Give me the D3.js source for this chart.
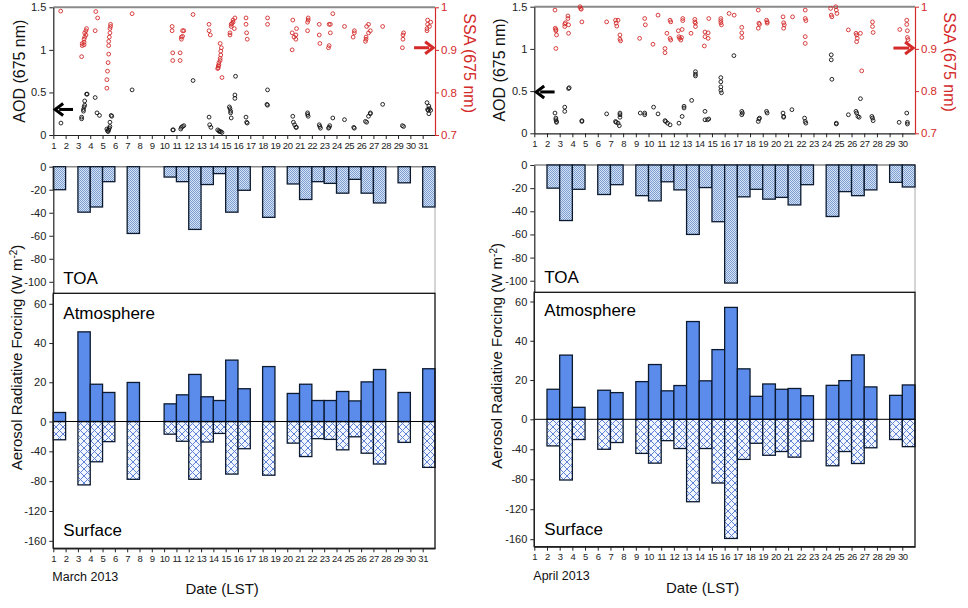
<!DOCTYPE html>
<html><head><meta charset="utf-8">
<script src="https://cdn.jsdelivr.net/npm/d3@7"></script>
<style>
body{margin:0;background:#fff;}
svg{display:block;font-family:"Liberation Sans",Arial,sans-serif;}
</style></head>
<body>
<svg id="c" width="968" height="608"></svg>
<script>
// ---------------- DATA ----------------
const marchDays = [1,3,4,5,7,10,11,12,13,14,15,16,18,20,21,22,23,24,25,26,27,29,31];
const marchTOA  = [-20,-39.5,-35,-13,-58,-9,-13,-54.5,-15.5,-6,-39.5,-20.5,-44,-15,-28.5,-13,-14.5,-23,-11,-23,-31.5,-14,-35];
const marchATM  = [4.6,45.7,19,14.8,19.9,9,13.6,24,12.6,10.7,31.3,16.7,28,14.3,19,10.7,10.7,15.3,10.5,20.2,26.5,14.8,26.9];
const marchSRF  = [-24.5,-85,-54,-27,-77.5,-17,-26.5,-77.5,-27.5,-16,-70.5,-36.5,-72,-29,-47,-23,-24,-38,-20.5,-42.5,-57,-28,-61.5];

const aprilDays = [2,3,4,6,7,9,10,11,12,13,14,15,16,17,18,19,20,21,22,24,25,26,27,29,30];
const aprilTOA  = [-20,-48,-21,-25.5,-17,-26.5,-31,-14.5,-21.5,-60,-19.5,-49,-102,-27.5,-21,-29.5,-28,-34.5,-17,-44.5,-23,-26.5,-21.5,-15,-19];
const aprilATM  = [15.3,32.7,6.1,14.8,13.6,19.2,27.9,14.5,17.2,49.8,19.6,35.5,57,25.7,11.7,18,15.3,15.7,12,17.3,19.7,32.8,16.5,12.2,17.5];
const aprilSRF  = [-35.5,-81,-27,-40,-31,-45.5,-58.5,-28.5,-39,-110,-39,-85,-159,-53.5,-32,-48,-43,-50.5,-29,-62,-43,-59,-38,-27,-36.5];

const marchAOD = [[1.62,0.14],[3.3,0.19],[3.3,0.21],[3.45,0.28],[3.45,0.30],[3.5,0.33],[3.55,0.35],[3.55,0.40],[3.7,0.48],[3.75,0.48],[4.4,0.44],[4.55,0.26],[4.75,0.23],[5.35,0.07],[5.4,0.05],[5.45,0.04],[5.5,0.06],[5.55,0.08],[5.6,0.10],[5.6,0.15],[5.7,0.23],[5.75,0.22],[7.4,0.53],[10.7,0.06],[10.75,0.06],[11.35,0.07],[11.4,0.09],[11.5,0.10],[11.6,0.11],[12.35,0.64],[13.65,0.21],[13.7,0.12],[13.8,0.09],[14.35,0.06],[14.45,0.05],[14.5,0.04],[14.6,0.04],[14.7,0.03],[15.3,0.33],[15.35,0.31],[15.4,0.28],[15.4,0.26],[15.45,0.2],[15.8,0.69],[15.75,0.47],[15.75,0.43],[16.65,0.21],[16.7,0.15],[16.75,0.14],[18.4,0.53],[18.35,0.36],[18.4,0.35],[20.45,0.22],[20.5,0.15],[20.6,0.12],[20.7,0.09],[20.75,0.09],[21.65,0.26],[21.65,0.24],[21.7,0.22],[22.6,0.12],[22.65,0.10],[22.7,0.08],[23.35,0.08],[23.4,0.09],[23.45,0.11],[23.7,0.2],[24.65,0.18],[25.4,0.09],[25.45,0.08],[26.35,0.16],[26.45,0.15],[26.6,0.22],[26.75,0.26],[26.75,0.25],[27.75,0.36],[29.35,0.11],[29.45,0.10],[31.35,0.38],[31.4,0.30],[31.45,0.29],[31.5,0.34],[31.5,0.25],[31.55,0.31],[31.65,0.29]];
const marchSSA = [[1.6,0.991],[3.3,0.884],[3.35,0.91],[3.35,0.915],[3.5,0.912],[3.5,0.918],[3.5,0.925],[3.55,0.93],[3.55,0.94],[3.65,0.935],[3.65,0.945],[3.7,0.95],[4.4,0.945],[4.45,0.99],[4.6,0.975],[5.35,0.81],[5.35,0.83],[5.4,0.85],[5.45,0.87],[5.5,0.89],[5.5,0.91],[5.5,0.92],[5.55,0.93],[5.6,0.94],[5.6,0.95],[5.65,0.955],[5.65,0.96],[7.4,0.985],[10.65,0.945],[10.65,0.955],[10.7,0.893],[10.7,0.875],[11.3,0.893],[11.3,0.875],[11.4,0.925],[11.4,0.93],[11.5,0.945],[11.5,0.932],[11.6,0.945],[12.35,0.983],[13.65,0.96],[13.65,0.945],[13.75,0.935],[14.35,0.856],[14.4,0.858],[14.4,0.862],[14.45,0.865],[14.45,0.87],[14.55,0.875],[14.55,0.88],[14.6,0.888],[14.6,0.897],[14.65,0.905],[14.7,0.835],[14.55,0.915],[15.35,0.935],[15.35,0.94],[15.45,0.955],[15.45,0.96],[15.5,0.962],[15.6,0.965],[15.6,0.97],[15.7,0.95],[15.75,0.975],[16.65,0.975],[16.65,0.96],[16.7,0.94],[16.75,0.925],[18.4,0.975],[18.4,0.96],[20.4,0.9],[20.4,0.94],[20.45,0.97],[20.55,0.93],[20.7,0.925],[20.7,0.935],[20.75,0.95],[21.65,0.945],[21.65,0.965],[21.7,0.97],[21.7,0.975],[22.6,0.96],[22.6,0.935],[22.65,0.915],[23.35,0.905],[23.4,0.91],[23.4,0.96],[23.5,0.94],[23.5,0.96],[23.7,0.985],[24.65,0.955],[25.35,0.93],[25.45,0.945],[25.45,0.94],[26.35,0.92],[26.4,0.925],[26.4,0.93],[26.45,0.955],[26.6,0.96],[26.6,0.94],[26.75,0.945],[27.75,0.955],[29.35,0.905],[29.4,0.925],[29.4,0.935],[29.45,0.94],[31.35,0.945],[31.35,0.95],[31.4,0.97],[31.4,0.96],[31.55,0.955],[31.65,0.965]];

const aprilAOD = [[2.63,0.24],[2.7,0.18],[2.7,0.16],[2.75,0.14],[2.75,0.13],[3.4,0.26],[3.4,0.31],[3.7,0.53],[3.75,0.54],[4.75,0.15],[4.75,0.14],[6.7,0.23],[7.4,0.14],[7.45,0.13],[7.6,0.12],[7.7,0.09],[7.75,0.24],[7.75,0.22],[7.75,0.19],[9.35,0.24],[9.7,0.22],[9.7,0.24],[10.4,0.31],[10.75,0.23],[11.3,0.15],[11.35,0.14],[11.5,0.12],[11.7,0.10],[12.4,0.12],[12.65,0.20],[12.8,0.32],[12.8,0.30],[13.4,0.39],[13.7,0.70],[13.7,0.73],[13.7,0.68],[14.45,0.26],[14.45,0.16],[14.65,0.16],[14.75,0.17],[15.7,0.66],[15.7,0.61],[15.7,0.55],[15.7,0.51],[15.75,0.48],[16.73,0.92],[17.35,0.26],[17.4,0.24],[17.35,0.22],[18.65,0.14],[18.7,0.17],[18.75,0.18],[19.3,0.26],[19.35,0.24],[20.6,0.24],[20.65,0.2],[20.65,0.19],[21.3,0.28],[22.3,0.18],[22.35,0.14],[22.4,0.12],[24.4,0.93],[24.4,0.87],[24.45,0.64],[24.8,0.11],[24.8,0.12],[25.75,0.22],[26.35,0.26],[26.4,0.24],[26.5,0.2],[26.6,0.19],[26.7,0.41],[27.6,0.2],[27.65,0.18],[27.7,0.15],[29.75,0.13],[30.35,0.24],[30.4,0.13],[30.4,0.11]];
const aprilSSA = [[2.63,0.992],[2.65,0.949],[2.7,0.943],[2.7,0.946],[2.75,0.933],[2.7,0.901],[3.4,0.959],[3.45,0.962],[3.4,0.953],[3.65,0.978],[3.65,0.972],[3.7,0.957],[3.7,0.937],[4.6,1.0],[4.65,0.996],[4.7,0.994],[4.75,0.964],[6.7,0.964],[7.4,0.968],[7.45,0.961],[7.5,0.954],[7.6,0.968],[7.75,0.933],[7.75,0.923],[7.8,0.919],[9.3,0.925],[9.7,0.972],[9.75,0.957],[10.35,0.911],[10.75,0.98],[11.3,0.901],[11.3,0.891],[11.45,0.937],[11.7,0.968],[11.75,0.964],[11.7,0.925],[11.75,0.921],[12.35,0.943],[12.4,0.929],[12.45,0.925],[12.55,0.921],[12.6,0.927],[12.65,0.946],[12.7,0.972],[12.7,0.967],[13.35,0.937],[13.65,0.964],[13.7,0.961],[13.65,0.97],[13.7,0.953],[14.4,0.907],[14.45,0.94],[14.45,0.929],[14.7,0.925],[14.7,0.938],[14.75,0.972],[15.7,0.972],[15.7,0.967],[15.75,0.957],[15.7,0.962],[16.35,0.984],[16.75,0.98],[17.35,0.951],[17.35,0.938],[17.35,0.927],[18.65,0.992],[18.65,0.949],[18.7,0.961],[18.75,0.958],[19.3,0.968],[19.35,0.964],[19.35,0.961],[20.6,0.976],[20.65,0.962],[20.65,0.949],[20.7,0.957],[21.35,0.976],[22.35,0.992],[22.35,0.972],[22.4,0.967],[22.35,0.929],[22.35,0.913],[24.35,0.996],[24.4,0.98],[24.45,0.976],[24.75,1.0],[24.8,0.992],[24.85,0.984],[25.75,0.945],[26.35,0.937],[26.4,0.933],[26.45,0.925],[26.4,0.917],[26.7,0.937],[26.8,0.848],[27.65,0.964],[27.65,0.953],[27.7,0.939],[29.8,0.946],[30.35,0.968],[30.35,0.958],[30.4,0.943],[30.4,0.927],[30.45,0.922]];

const aodTicks = [0,0.5,1,1.5];
const ssaTicks = [0.7,0.8,0.9,1];
const toaTicks = [0,-20,-40,-60,-80,-100];
const atmTicks = [0,20,40,60];
const srfTicks = [-40,-80,-120,-160];

// ---------------- DRAW ----------------
const svg = d3.select("#c");
const defs = svg.append("defs");
const pt = defs.append("pattern").attr("id","toaPat").attr("patternUnits","userSpaceOnUse").attr("width",2).attr("height",2);
pt.append("rect").attr("width",2).attr("height",2).attr("fill","#d3e2f5");
pt.append("rect").attr("width",1).attr("height",1).attr("fill","#7f9ed2");
pt.append("rect").attr("x",1).attr("y",1).attr("width",1).attr("height",1).attr("fill","#7f9ed2");
const ps = defs.append("pattern").attr("id","srfPat").attr("patternUnits","userSpaceOnUse").attr("width",7).attr("height",7);
ps.append("rect").attr("width",7).attr("height",7).attr("fill","#f2f7ff");
ps.append("path").attr("d","M0,0L7,7M7,0L0,7M-1,6L1,8M6,-1L8,1M-1,1L1,-1M6,8L8,6").attr("stroke","#5f82d6").attr("stroke-width",1);

const RED = "#d42a2a";
const panels = [
  {days:marchDays,toa:marchTOA,atm:marchATM,srf:marchSRF,aod:marchAOD,ssa:marchSSA,n:31,month:"March 2013",
   x0:53.3,x1:435,tY0:135,tY1:7.3,toaTop:166.7,toaBot:293.3,atmTop:294,zeroY:421.5,srfBot:548.3,
   blackArrow:0.3,redArrow:0.905,labX:17},
  {days:aprilDays,toa:aprilTOA,atm:aprilATM,srf:aprilSRF,aod:aprilAOD,ssa:aprilSSA,n:30,month:"April 2013",
   x0:534.3,x1:915,tY0:133.3,tY1:6.7,toaTop:165,toaBot:292.3,atmTop:291.7,zeroY:419.3,srfBot:546.7,
   blackArrow:0.49,redArrow:0.902,labX:497}
];

function styleAxis(g,color,fs){
  g.selectAll("path").attr("stroke",color).attr("stroke-width",1.2);
  g.selectAll("line").attr("stroke",color);
  g.selectAll("text").attr("fill",color).style("font-size",fs+"px").attr("font-family","'Liberation Sans',Arial,sans-serif");
}

panels.forEach(p=>{
  const g = svg.append("g");
  const x = d3.scaleLinear([1,p.n+1],[p.x0,p.x1]);
  const dayTicks = d3.range(1,p.n+1);
  const yA = d3.scaleLinear([0,1.5],[p.tY0,p.tY1]);
  const yS = d3.scaleLinear([0.7,1],[p.tY0,p.tY1]);
  const yT = d3.scaleLinear([-110,0],[p.toaBot,p.toaTop]);
  const yAt = d3.scaleLinear([0,65],[p.zeroY,p.atmTop]);
  const ySf = d3.scaleLinear([-170,0],[p.srfBot,p.zeroY]);

  // ---- top scatter panel ----
  g.append("line").attr("x1",p.x0).attr("x2",p.x1).attr("y1",p.tY1).attr("y2",p.tY1).attr("stroke","#8a8a8a").attr("stroke-width",2);
  const ax = g.append("g").attr("transform",`translate(0,${p.tY0})`)
    .call(d3.axisBottom(x).tickValues(dayTicks).tickSize(4).tickSizeOuter(0).tickPadding(3));
  styleAxis(ax,"#222",9.5); ax.selectAll("text").attr("letter-spacing","-0.4");
  const ay = g.append("g").attr("transform",`translate(${p.x0},0)`)
    .call(d3.axisLeft(yA).tickValues(aodTicks).tickFormat(d3.format("")).tickSize(4).tickSizeOuter(0));
  styleAxis(ay,"#222",11);
  const as = g.append("g").attr("transform",`translate(${p.x1},0)`)
    .call(d3.axisRight(yS).tickValues(ssaTicks).tickFormat(d3.format("")).tickSize(4).tickSizeOuter(0).tickPadding(2));
  styleAxis(as,RED,11.5);

  g.append("g").selectAll("circle").data(p.ssa).join("circle")
    .attr("cx",d=>x(d[0])).attr("cy",d=>yS(d[1])).attr("r",1.9)
    .attr("fill","none").attr("stroke",RED).attr("stroke-width",0.9);
  g.append("g").selectAll("circle").data(p.aod).join("circle")
    .attr("cx",d=>x(d[0])).attr("cy",d=>yA(d[1])).attr("r",1.9)
    .attr("fill","none").attr("stroke","#111").attr("stroke-width",0.9);

  // arrows
  const by = yA(p.blackArrow), bx0 = x(1.15), bx1 = x(2.6);
  g.append("line").attr("x1",bx0+4).attr("x2",bx1).attr("y1",by).attr("y2",by).attr("stroke","#000").attr("stroke-width",3);
  g.append("path").attr("d",`M${bx0+8},${by-6}L${bx0},${by}L${bx0+8},${by+6}`).attr("fill","none").attr("stroke","#000").attr("stroke-width",3).attr("stroke-linejoin","miter");
  const ry = yS(p.redArrow), rx1 = x(p.n+0.85), rx0 = x(p.n-0.7);
  g.append("line").attr("x1",rx0).attr("x2",rx1-4).attr("y1",ry).attr("y2",ry).attr("stroke",RED).attr("stroke-width",3);
  g.append("path").attr("d",`M${rx1-8},${ry-6}L${rx1},${ry}L${rx1-8},${ry+6}`).attr("fill","none").attr("stroke",RED).attr("stroke-width",3);

  g.append("text").attr("transform",`translate(${p.labX+8},${(p.tY0+p.tY1)/2}) rotate(-90)`)
    .attr("text-anchor","middle").style("font-size","16px").attr("fill","#111").text("AOD (675 nm)");
  g.append("text").attr("transform",`translate(${p.x1+29},${(p.tY0+p.tY1)/2 - 8}) rotate(90)`)
    .attr("text-anchor","middle").style("font-size","16px").attr("fill",RED).text("SSA (675 nm)");

  // ---- TOA panel ----
  g.append("line").attr("x1",p.x0).attr("x2",p.x1).attr("y1",p.toaTop).attr("y2",p.toaTop).attr("stroke","#8a8a8a").attr("stroke-width",1.5);
  g.append("line").attr("x1",p.x1).attr("x2",p.x1).attr("y1",p.toaTop).attr("y2",p.toaBot).attr("stroke","#aaa").attr("stroke-width",1);
  g.append("g").selectAll("rect").data(p.days.map((d,i)=>[d,p.toa[i]])).join("rect")
    .attr("x",d=>x(d[0])).attr("width",d=>x(d[0]+1)-x(d[0]))
    .attr("y",yT(0)).attr("height",d=>yT(d[1])-yT(0))
    .attr("fill","url(#toaPat)").attr("stroke","#0c1a30").attr("stroke-width",1.3);
  const at = g.append("g").attr("transform",`translate(${p.x0},0)`)
    .call(d3.axisLeft(yT).tickValues(toaTicks).tickSize(4).tickSizeOuter(0));
  styleAxis(at,"#222",11);
  at.selectAll("text").text(d=>d<0?"-"+Math.abs(d):d);
  g.append("text").attr("x",p.x0+10).attr("y",p.toaBot-9).style("font-size","17px").attr("fill","#000").text("TOA");

  // ---- Atmosphere / surface panel ----
  g.append("g").selectAll("rect").data(p.days.map((d,i)=>[d,p.srf[i]])).join("rect")
    .attr("x",d=>x(d[0])).attr("width",d=>x(d[0]+1)-x(d[0]))
    .attr("y",p.zeroY).attr("height",d=>ySf(d[1])-p.zeroY)
    .attr("fill","url(#srfPat)").attr("stroke","#0c1a30").attr("stroke-width",1.3);
  g.append("g").selectAll("rect").data(p.days.map((d,i)=>[d,p.atm[i]])).join("rect")
    .attr("x",d=>x(d[0])).attr("width",d=>x(d[0]+1)-x(d[0]))
    .attr("y",d=>yAt(d[1])).attr("height",d=>p.zeroY-yAt(d[1]))
    .attr("fill","#5b8cec").attr("stroke","#0c1a30").attr("stroke-width",1.3);
  g.append("line").attr("x1",p.x0).attr("x2",p.x1).attr("y1",p.zeroY).attr("y2",p.zeroY).attr("stroke","#000").attr("stroke-width",1);
  g.append("rect").attr("x",p.x0).attr("y",p.toaBot).attr("width",p.x1-p.x0).attr("height",p.srfBot-p.toaBot)
    .attr("fill","none").attr("stroke","#111").attr("stroke-width",1.3);
  const aa = g.append("g").attr("transform",`translate(${p.x0},0)`)
    .call(d3.axisLeft(yAt).tickValues(atmTicks).tickSize(4).tickSizeOuter(0));
  styleAxis(aa,"#222",11);
  const asf = g.append("g").attr("transform",`translate(${p.x0},0)`)
    .call(d3.axisLeft(ySf).tickValues(srfTicks).tickSize(4).tickSizeOuter(0));
  styleAxis(asf,"#222",11);
  asf.selectAll("text").text(d=>"-"+Math.abs(d));
  aa.select("path").attr("d",`M0,${p.atmTop}V${p.zeroY}`);
  asf.select("path").attr("d",`M0,${p.zeroY}V${p.srfBot}`);
  const ab = g.append("g").attr("transform",`translate(0,${p.srfBot})`)
    .call(d3.axisBottom(x).tickValues(dayTicks).tickSize(4).tickSizeOuter(0).tickPadding(3));
  styleAxis(ab,"#222",9.5); ab.selectAll("text").attr("letter-spacing","-0.4");
  g.append("text").attr("x",p.x0+10).attr("y",p.zeroY-103).style("font-size","17px").attr("fill","#000").text("Atmosphere");
  g.append("text").attr("x",p.x0+10).attr("y",p.srfBot-12).style("font-size","17px").attr("fill","#000").text("Surface");

  const lab = g.append("text").attr("transform",`translate(${p.labX+5},${(p.toaTop+p.srfBot)/2}) rotate(-90)`)
    .attr("text-anchor","middle").style("font-size","15px").attr("fill","#111");
  lab.append("tspan").text("Aerosol Radiative Forcing (W m");
  lab.append("tspan").attr("dy",-5).style("font-size","10px").text("-2");
  lab.append("tspan").attr("dy",5).text(")");

  g.append("text").attr("x",p.x0-1).attr("y",p.srfBot+33).style("font-size","12.5px").attr("fill","#111").text(p.month);
  g.append("text").attr("x",(p.x0+p.x1)/2 - 22).attr("y",p.srfBot+46).attr("text-anchor","middle").style("font-size","15px").attr("fill","#111").text("Date (LST)");
});
</script>
</body></html>
